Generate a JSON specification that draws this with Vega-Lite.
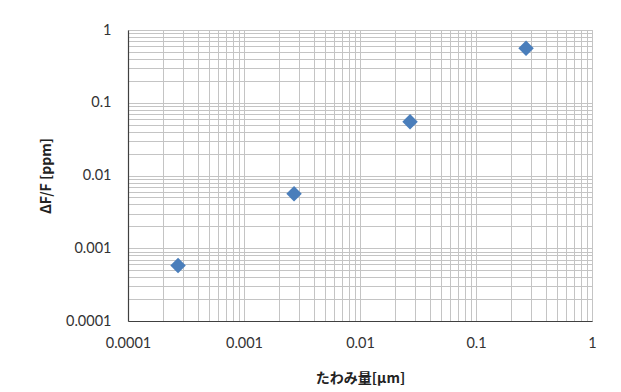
{
  "$schema": "https://vega.github.io/schema/vega-lite/v6.json",
  "width": 464,
  "height": 291,
  "autosize": "none",
  "padding": {"left": 128, "top": 30, "right": 29, "bottom": 71},
  "background": "white",
  "config": {
    "view": {"stroke": "#BFBFBF", "strokeWidth": 1},
    "axis": {"labelFont": "Lato", "labelFontSize": 14.5, "labelColor": "#333333", "titleFont": "Noto Sans CJK JP", "titleFontSize": 14, "titleFontWeight": "bold", "titleColor": "#222222", "gridColor": "#C4C4C4", "gridWidth": 1, "gridOpacity": 1, "domainColor": "#404040", "domainWidth": 1.2, "ticks": false}
  },
  "data": {
    "values": [
      {"x": 0.00027, "y": 0.00058},
      {"x": 0.0027, "y": 0.0056},
      {"x": 0.027, "y": 0.055},
      {"x": 0.27, "y": 0.56}
    ]
  },
  "mark": {"type": "point", "shape": "diamond", "filled": true, "color": "#4A7EBB", "opacity": 1, "size": 240},
  "encoding": {
    "x": {
      "field": "x", "type": "quantitative",
      "scale": {"type": "log", "domain": [0.0001, 1], "nice": false},
      "axis": {
        "title": "たわみ量[μm]",
        "values": [0.0001,0.0002,0.0003,0.0004,0.0005,0.0006,0.0007,0.0008,0.0009,0.001,0.002,0.003,0.004,0.005,0.006,0.007,0.008,0.009,0.01,0.02,0.03,0.04,0.05,0.06,0.07,0.08,0.09,0.1,0.2,0.3,0.4,0.5,0.6,0.7,0.8,0.9,1],
        "labelExpr": "indexof([0.0001,0.001,0.01,0.1,1], datum.value) >= 0 ? datum.label : ''",
        "format": "~g",
        "labelPadding": 15,
        "labelFlush": false,
        "labelOverlap": false,
        "titlePadding": 22
      }
    },
    "y": {
      "field": "y", "type": "quantitative",
      "scale": {"type": "log", "domain": [0.0001, 1], "nice": false},
      "axis": {
        "title": "ΔF/F [ppm]",
        "values": [0.0001,0.0002,0.0003,0.0004,0.0005,0.0006,0.0007,0.0008,0.0009,0.001,0.002,0.003,0.004,0.005,0.006,0.007,0.008,0.009,0.01,0.02,0.03,0.04,0.05,0.06,0.07,0.08,0.09,0.1,0.2,0.3,0.4,0.5,0.6,0.7,0.8,0.9,1],
        "labelExpr": "indexof([0.0001,0.001,0.01,0.1,1], datum.value) >= 0 ? datum.label : ''",
        "format": "~g",
        "labelPadding": 17,
        "labelFlush": false,
        "labelOverlap": false,
        "titlePadding": 12
      }
    }
  }
}
